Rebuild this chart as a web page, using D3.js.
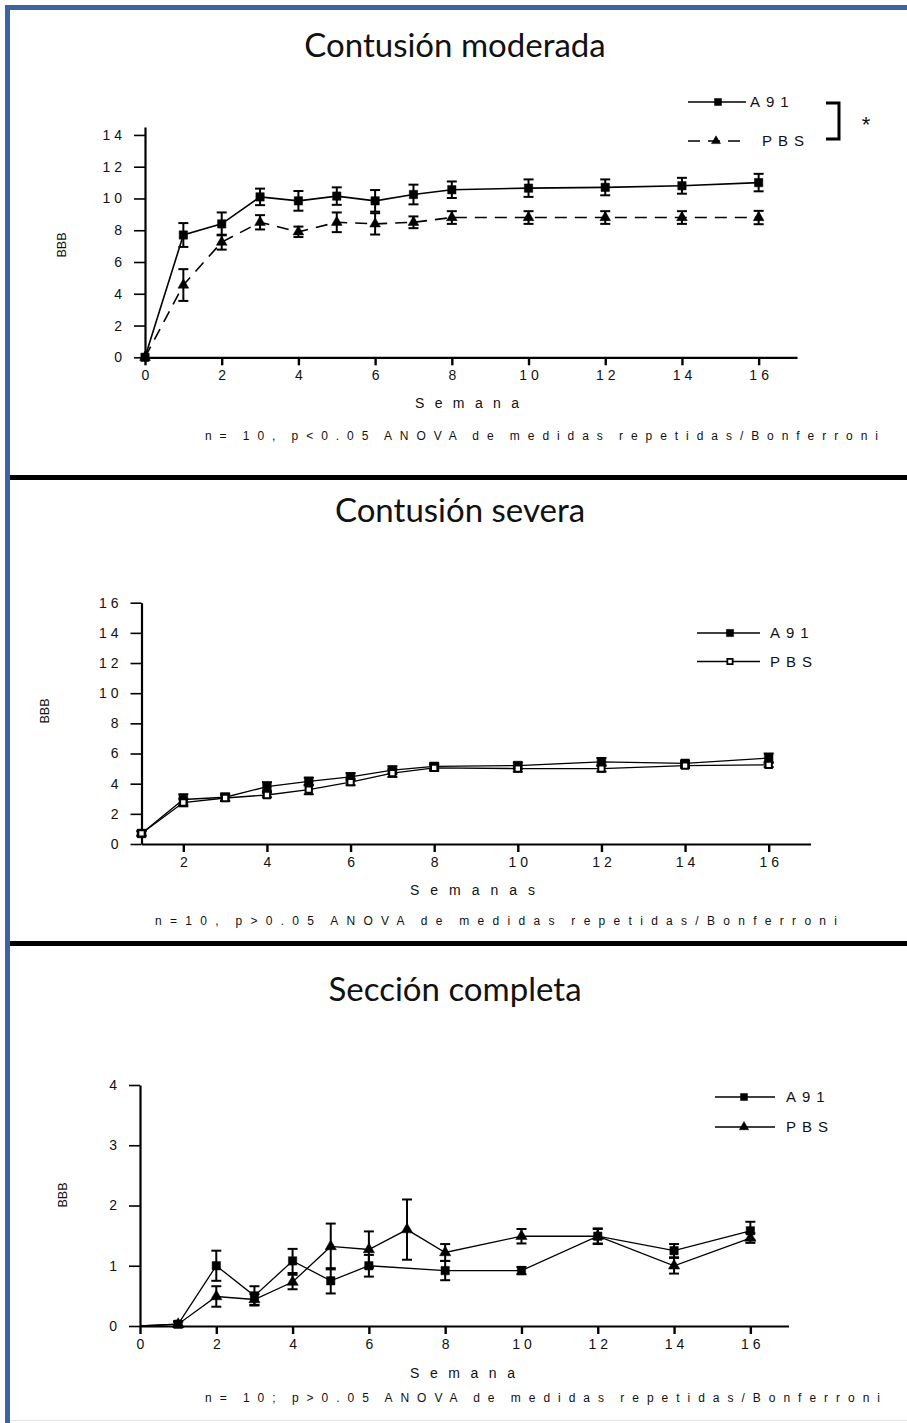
<!DOCTYPE html>
<html>
<head>
<meta charset="utf-8">
<script src="https://cdn.jsdelivr.net/npm/d3@7"></script>
<style>
  body { margin: 0; background: #fff; }
  svg text { font-family: "Liberation Sans", Arial, sans-serif; fill: #111; }
  .title { font-family: Lato, "Open Sans", sans-serif !important; }
</style>
</head>
<body>
<svg id="fig" width="907" height="1423"></svg>
<script>
// ---- Contusión moderada ----
const modWeeks = [0, 1, 2, 3, 4, 5, 6, 7, 8, 10, 12, 14, 16];
const modA91 = [0, 7.7, 8.4, 10.1, 9.85, 10.15, 9.85, 10.25, 10.55, 10.65, 10.7, 10.8, 11.0];
const modA91Err = [0, 0.75, 0.72, 0.52, 0.62, 0.55, 0.68, 0.62, 0.52, 0.55, 0.5, 0.5, 0.55];
const modPBS = [0, 4.55, 7.25, 8.5, 7.9, 8.5, 8.4, 8.5, 8.8, 8.8, 8.8, 8.8, 8.8];
const modPBSErr = [0, 1.0, 0.47, 0.45, 0.33, 0.62, 0.67, 0.37, 0.4, 0.4, 0.4, 0.4, 0.42];

// ---- Contusión severa ----
const sevWeeks = [1, 2, 3, 4, 5, 6, 7, 8, 10, 12, 14, 16];
const sevA91 = [0.7, 2.95, 3.1, 3.8, 4.15, 4.45, 4.9, 5.15, 5.2, 5.45, 5.35, 5.7];
const sevA91Err = [0.15, 0.35, 0.25, 0.3, 0.25, 0.25, 0.25, 0.2, 0.2, 0.25, 0.15, 0.3];
const sevPBS = [0.7, 2.75, 3.05, 3.25, 3.6, 4.1, 4.7, 5.05, 5.0, 5.0, 5.2, 5.25];
const sevPBSErr = [0.15, 0.25, 0.2, 0.15, 0.3, 0.2, 0.25, 0.2, 0.2, 0.2, 0.15, 0.15];

// ---- Sección completa ----
const secA91Weeks = [0, 1, 2, 3, 4, 5, 6, 8, 10, 12, 14, 16];
const secA91 = [0, 0.03, 1.0, 0.5, 1.08, 0.75, 1.0, 0.92, 0.92, 1.49, 1.25, 1.58];
const secA91Err = [0, 0.05, 0.25, 0.16, 0.2, 0.21, 0.18, 0.16, 0.06, 0.13, 0.11, 0.15];
const secPBSWeeks = [0, 1, 2, 3, 4, 5, 6, 7, 8, 10, 12, 14, 16];
const secPBS = [0, 0.03, 0.49, 0.44, 0.73, 1.32, 1.27, 1.6, 1.22, 1.49, 1.49, 1.0, 1.46];
const secPBSErr = [0, 0.04, 0.17, 0.09, 0.12, 0.38, 0.3, 0.5, 0.14, 0.12, 0.12, 0.13, 0.08];

// ---- Axis ticks and labels ----
const ticksWeek0 = [0, 2, 4, 6, 8, 10, 12, 14, 16];
const ticksWeek1 = [2, 4, 6, 8, 10, 12, 14, 16];
const ticksBBB14 = [0, 2, 4, 6, 8, 10, 12, 14];
const ticksBBB16 = [0, 2, 4, 6, 8, 10, 12, 14, 16];
const ticksBBB4 = [0, 1, 2, 3, 4];
const seriesNames = ["A91", "PBS"];
const titles = ["Contusión moderada", "Contusión severa", "Sección completa"];
const xTitles = ["Semana", "Semanas", "Semana"];
const notes = [
  "n= 10, p<0.05 ANOVA de medidas repetidas/Bonferroni",
  "n=10, p>0.05 ANOVA de medidas repetidas/Bonferroni",
  "n= 10; p>0.05 ANOVA de medidas repetidas/Bonferroni"
];

const zip = (w, v, e) => w.map((wk, i) => ({ w: wk, v: v[i], e: e[i] }));

const svg = d3.select("#fig");

// outer frame (blue top and left edges) and panel separators
svg.append("rect").attr("x", 5).attr("y", 5).attr("width", 902).attr("height", 5).attr("fill", "#3c64a0");
svg.append("rect").attr("x", 5).attr("y", 5).attr("width", 5).attr("height", 1418).attr("fill", "#3c64a0");
svg.append("rect").attr("x", 10).attr("y", 475).attr("width", 897).attr("height", 5).attr("fill", "#000");
svg.append("rect").attr("x", 10).attr("y", 941).attr("width", 897).attr("height", 5).attr("fill", "#000");
svg.append("rect").attr("x", 10).attr("y", 1420).attr("width", 897).attr("height", 1).attr("fill", "#e2e2e2");

const markerPath = (type, size) => d3.symbol().type(type).size(size)();

// spread a text's letters evenly so it spans the given width
function spreadText(sel, width) {
  const node = sel.node();
  const natural = node.getComputedTextLength();
  const n = sel.text().length;
  sel.style("letter-spacing", `${Math.max(0, (width - natural) / (n - 1))}px`);
}

function drawPanel(p) {
  const g = svg.append("g");
  const x = d3.scaleLinear().domain(p.xDomain).range(p.xRange);
  const y = d3.scaleLinear().domain(p.yDomain).range(p.yRange);

  g.append("text").attr("class", "title")
    .attr("x", p.titleX).attr("y", p.titleY)
    .attr("text-anchor", "middle")
    .style("font-size", "33px")
    .text(p.title);

  // axes
  const xa = g.append("g")
    .attr("transform", `translate(0,${y(p.yDomain[0])})`)
    .call(d3.axisBottom(x).tickValues(p.xTicks).tickSize(8).tickSizeOuter(0).tickPadding(5).tickFormat(d3.format("d")));
  const ya = g.append("g")
    .attr("transform", `translate(${x(p.xDomain[0])},0)`)
    .call(d3.axisLeft(y).tickValues(p.yTicks).tickSize(11).tickSizeOuter(0).tickPadding(8).tickFormat(d3.format("d")));
  [xa, ya].forEach(a => {
    a.select(".domain").attr("stroke", "#000").attr("stroke-width", 2.2);
    a.selectAll(".tick line").attr("stroke", "#000").attr("stroke-width", 1.6);
    a.selectAll(".tick text")
      .attr("fill", "#111")
      .style("font-family", "'Liberation Sans', Arial, sans-serif")
      .style("font-size", "14px")
      .style("letter-spacing", "4px");
  });
  xa.selectAll(".tick line").attr("stroke-width", 2.4);
  xa.selectAll(".tick text").attr("dx", "2px");

  // axis titles
  g.append("text")
    .attr("transform", `translate(${p.yTitleX},${p.yTitleY}) rotate(-90)`)
    .attr("text-anchor", "middle")
    .style("font-size", "12.5px")
    .text("BBB");
  const xt = g.append("text")
    .attr("x", p.xTitleX).attr("y", p.xTitleY)
    .style("font-size", "14px")
    .text(p.xTitle);
  spreadText(xt, p.xTitleLen);
  const nt = g.append("text")
    .attr("x", p.noteX).attr("y", p.noteY)
    .style("font-size", "12px")
    .style("word-spacing", "-3px")
    .text(p.note);
  spreadText(nt, p.noteLen);

  // series
  p.series.forEach(s => {
    const line = d3.line().x(d => x(d.w)).y(d => y(d.v));
    g.append("path").datum(s.data)
      .attr("fill", "none").attr("stroke", "#000")
      .attr("stroke-width", s.width)
      .attr("stroke-dasharray", s.dash || null)
      .attr("d", line);
  });
  p.series.forEach(s => {
    const eb = g.append("g").attr("stroke", "#000").attr("stroke-width", 2);
    s.data.filter(d => d.e > 0).forEach(d => {
      const cx = x(d.w), y1 = y(d.v + d.e), y2 = y(d.v - d.e);
      eb.append("line").attr("x1", cx).attr("x2", cx).attr("y1", y1).attr("y2", y2);
      eb.append("line").attr("x1", cx - 5).attr("x2", cx + 5).attr("y1", y1).attr("y2", y1);
      eb.append("line").attr("x1", cx - 5).attr("x2", cx + 5).attr("y1", y2).attr("y2", y2);
    });
  });
  p.series.forEach(s => {
    g.append("g").selectAll("path").data(s.data.filter(d => d.w >= p.markFrom)).join("path")
      .attr("transform", d => `translate(${x(d.w)},${y(d.v)})`)
      .attr("d", markerPath(s.symbol, s.size))
      .attr("fill", s.fill).attr("stroke", "#000").attr("stroke-width", s.fill === "#fff" ? 2 : 0.5);
  });

  // legend
  p.series.forEach((s, i) => {
    const ly = p.legend.y[i];
    g.append("line")
      .attr("x1", p.legend.x1[i]).attr("x2", p.legend.x2[i])
      .attr("y1", ly).attr("y2", ly)
      .attr("stroke", "#000").attr("stroke-width", 1.4)
      .attr("stroke-dasharray", s.dash || null);
    g.append("path")
      .attr("transform", `translate(${p.legend.mx[i]},${ly})`)
      .attr("d", markerPath(s.symbol, s.size * 0.7))
      .attr("fill", s.fill).attr("stroke", "#000").attr("stroke-width", s.fill === "#fff" ? 1.8 : 0.5);
    g.append("text")
      .attr("x", p.legend.tx[i]).attr("y", ly + 5)
      .style("font-size", "15px").style("letter-spacing", "6px")
      .text(s.name);
  });
  return g;
}

// Panel 1
const g1 = drawPanel({
  title: titles[0], titleX: 455, titleY: 57,
  xDomain: [0, 17], xRange: [145, 797],
  yDomain: [0, 14.5], yRange: [357.3, 127],
  xTicks: ticksWeek0, yTicks: ticksBBB14, markFrom: 0,
  yTitleX: 66, yTitleY: 245,
  xTitle: xTitles[0], xTitleX: 415, xTitleY: 408, xTitleLen: 104,
  note: notes[0], noteX: 205, noteY: 440, noteLen: 673,
  series: [
    { name: seriesNames[0], data: zip(modWeeks, modA91, modA91Err), symbol: d3.symbolSquare, size: 70, fill: "#000", width: 1.6 },
    { name: seriesNames[1], data: zip(modWeeks, modPBS, modPBSErr), symbol: d3.symbolTriangle, size: 50, fill: "#000", width: 1.6, dash: "12,8" }
  ],
  legend: { y: [102, 141], x1: [688, 688], x2: [746, 746], mx: [718, 716], tx: [750, 762] }
});
// significance bracket
g1.append("path").attr("d", "M826,103 H839 V139 H826")
  .attr("fill", "none").attr("stroke", "#000").attr("stroke-width", 3);
g1.append("text").attr("x", 866).attr("y", 132).attr("text-anchor", "middle")
  .style("font-size", "22px").text("*");

// Panel 2
drawPanel({
  title: titles[1], titleX: 460, titleY: 522,
  xDomain: [1, 17], xRange: [141.5, 810.5],
  yDomain: [0, 16], yRange: [844, 602.7],
  xTicks: ticksWeek1, yTicks: ticksBBB16, markFrom: 0,
  yTitleX: 49, yTitleY: 711,
  xTitle: xTitles[1], xTitleX: 410, xTitleY: 895, xTitleLen: 125,
  note: notes[1], noteX: 155, noteY: 925, noteLen: 682,
  series: [
    { name: seriesNames[0], data: zip(sevWeeks, sevA91, sevA91Err), symbol: d3.symbolSquare, size: 75, fill: "#000", width: 1.3 },
    { name: seriesNames[1], data: zip(sevWeeks, sevPBS, sevPBSErr), symbol: d3.symbolSquare, size: 40, fill: "#fff", width: 1.3 }
  ],
  legend: { y: [633, 661.5], x1: [697, 697], x2: [760, 760], mx: [730, 730], tx: [770, 770] }
});

// Panel 3
drawPanel({
  title: titles[2], titleX: 455, titleY: 1001,
  xDomain: [0, 17], xRange: [140, 788.5],
  yDomain: [0, 4], yRange: [1326, 1085],
  xTicks: ticksWeek0, yTicks: ticksBBB4, markFrom: 1,
  yTitleX: 67, yTitleY: 1195,
  xTitle: xTitles[2], xTitleX: 410, xTitleY: 1378, xTitleLen: 105,
  note: notes[2], noteX: 205, noteY: 1402, noteLen: 675,
  series: [
    { name: seriesNames[0], data: zip(secA91Weeks, secA91, secA91Err), symbol: d3.symbolSquare, size: 70, fill: "#000", width: 1.3 },
    { name: seriesNames[1], data: zip(secPBSWeeks, secPBS, secPBSErr), symbol: d3.symbolTriangle, size: 55, fill: "#000", width: 1.3 }
  ],
  legend: { y: [1097, 1127], x1: [715, 715], x2: [775, 775], mx: [744, 744], tx: [786, 786] }
});
</script>
</body>
</html>
